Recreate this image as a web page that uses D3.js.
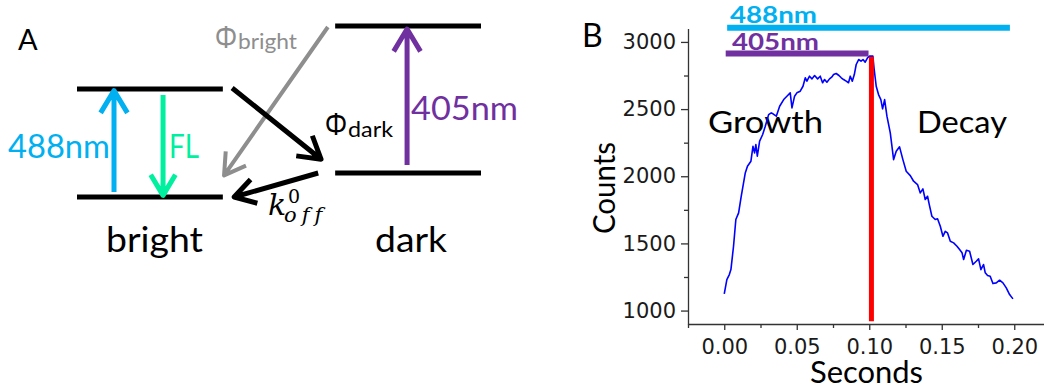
<!DOCTYPE html>
<html>
<head>
<meta charset="utf-8">
<script src="https://cdn.jsdelivr.net/npm/d3@7"></script>
<style>
  body { margin: 0; background: #fff; }
  svg { display: block; }
</style>
</head>
<body>
<svg id="fig" width="1044" height="390"></svg>
<script>
// ---------- Panel B: fluorescence counts vs. time ----------
const timeS = [
  0.0000, 0.0018, 0.0035, 0.0046, 0.0064, 0.0080, 0.0099, 0.0117, 0.0145, 0.0160,
  0.0184, 0.0198, 0.0209, 0.0218, 0.0228, 0.0244, 0.0265, 0.0283, 0.0306, 0.0324,
  0.0336, 0.0359, 0.0382, 0.0410, 0.0432, 0.0455, 0.0467, 0.0485, 0.0501, 0.0524,
  0.0543, 0.0559, 0.0570, 0.0588, 0.0605, 0.0623, 0.0644, 0.0662, 0.0678, 0.0692,
  0.0708, 0.0726, 0.0743, 0.0754, 0.0772, 0.0791, 0.0807, 0.0823, 0.0841, 0.0857,
  0.0869, 0.0883, 0.0897, 0.0910, 0.0927, 0.0943, 0.0957, 0.0972, 0.0988, 0.1002,
  0.1025, 0.1034, 0.1048, 0.1064, 0.1080, 0.1092, 0.1106, 0.1122, 0.1145, 0.1168,
  0.1186, 0.1209, 0.1232, 0.1255, 0.1283, 0.1306, 0.1333, 0.1352, 0.1370, 0.1386,
  0.1402, 0.1414, 0.1432, 0.1455, 0.1471, 0.1490, 0.1508, 0.1524, 0.1540, 0.1559,
  0.1582, 0.1605, 0.1623, 0.1640, 0.1651, 0.1670, 0.1692, 0.1715, 0.1738, 0.1754,
  0.1770, 0.1788, 0.1800, 0.1816, 0.1834, 0.1853, 0.1876, 0.1899, 0.1922, 0.1945,
  0.1968, 0.1991
];
const counts = [
  1125, 1231, 1268, 1305, 1479, 1678, 1727, 1851, 2025, 2075,
  2112, 2223, 2174, 2236, 2149, 2261, 2311, 2372, 2459, 2472,
  2465, 2447, 2521, 2571, 2596, 2621, 2509, 2596, 2621, 2633,
  2670, 2733, 2708, 2745, 2725, 2750, 2725, 2745, 2696, 2720,
  2700, 2725, 2740, 2757, 2765, 2750, 2733, 2720, 2708, 2696,
  2745, 2708, 2757, 2832, 2869, 2857, 2869, 2849, 2882, 2894,
  2894, 2795, 2670, 2608, 2571, 2502, 2571, 2447, 2323, 2124,
  2186, 2219, 2124, 2037, 2005, 1963, 1938, 1876, 1906, 1827,
  1851, 1789, 1702, 1678, 1683, 1628, 1553, 1590, 1578, 1516,
  1504, 1479, 1454, 1430, 1380, 1449, 1442, 1343, 1367, 1385,
  1305, 1343, 1281, 1261, 1255, 1201, 1206, 1226, 1206, 1169,
  1119, 1087
];

// 405 nm switch-off marker
const switchOffTime = 0.1015;
const switchOffTop = 2890;
const switchOffBottom = 920;

// illumination periods of the two lasers, stacked above the trace
const laserNames = ["488nm", "405nm"];
const laserOn = [0.002, 0.001];
const laserOff = [0.197, 0.0995];
const laserLevel = [3105, 2914];

const regionNames = ["Growth", "Decay"];

const xTicks = [0.00, 0.05, 0.10, 0.15, 0.20];
const xMinorTicks = [-0.025, 0.025, 0.075, 0.125, 0.175];
const yTicks = [1000, 1500, 2000, 2500, 3000];
const yMinorTicks = [1250, 1750, 2250, 2750];

// ---------- Panel A: bright / dark state scheme ----------
// horizontal position u (0..1 across the scheme) and energy E (ground of bright = 0, excited = 1)
const stateNames = ["bright", "dark"];
const stateStartU = [0, 0.639];
const stateEndU = [0.361, 1];
const levelState = [0, 0, 1, 1];
const levelEnergy = [0, 1, 0.222, 1.583];

const transitionNames = ["488nm", "FL", "405nm", "phiBright", "phiDark", "kOff"];
const transFromU = [0.0916, 0.213, 0.817, 0.621, 0.384, 0.597];
const transFromE = [0.046, 0.944, 0.296, 1.574, 1.009, 0.222];
const transToU = [0.0916, 0.213, 0.817, 0.364, 0.604, 0.389];
const transToE = [0.985, 0.015, 1.555, 0.2, 0.35, 0.0];

// ---------- drawing ----------
const svg = d3.select("#fig");
svg.append("rect").attr("width", 1044).attr("height", 390).attr("fill", "#fff");

const calibri = "Lato, 'Open Sans', 'Noto Sans', sans-serif";
const BLUE = "#00b0f0", GREEN = "#00f0a0", PURPLE = "#7030a0", GRAY = "#8e8e8e";

function label(g, txt, x, y, opts) {
  const t = g.append("text").attr("x", x).attr("y", y).text(txt)
    .attr("font-family", opts.family || calibri)
    .attr("font-size", opts.size)
    .attr("fill", opts.fill || "#000");
  if (opts.weight) t.attr("font-weight", opts.weight);
  if (opts.style) t.attr("font-style", opts.style);
  if (opts.anchor) t.attr("text-anchor", opts.anchor);
  if (opts.spacing) t.attr("letter-spacing", opts.spacing);
  if (opts.len) t.attr("textLength", opts.len).attr("lengthAdjust", "spacingAndGlyphs");
  return t;
}

// ----- Panel A -----
const gA = svg.append("g");
const uScale = d3.scaleLinear().domain([0, 1]).range([77, 481]);
const eScale = d3.scaleLinear().domain([0, 1]).range([197, 89]);

label(gA, "A", 18, 50, { size: 29 });

gA.selectAll("line.level")
  .data(levelState.map((s, i) => ({ s, e: levelEnergy[i] })))
  .join("line")
  .attr("class", "level")
  .attr("x1", d => uScale(stateStartU[d.s]))
  .attr("x2", d => uScale(stateEndU[d.s]))
  .attr("y1", d => eScale(d.e))
  .attr("y2", d => eScale(d.e))
  .attr("stroke", "#000")
  .attr("stroke-width", 5);

function arrowPath(x1, y1, x2, y2, len, ang) {
  const dx = x1 - x2, dy = y1 - y2, d = Math.hypot(dx, dy);
  const bx = dx / d, by = dy / d, c = Math.cos(ang), s = Math.sin(ang);
  const a1 = [x2 + len * (bx * c - by * s), y2 + len * (bx * s + by * c)];
  const a2 = [x2 + len * (bx * c + by * s), y2 + len * (-bx * s + by * c)];
  return `M${x1},${y1}L${x2},${y2}M${a1[0]},${a1[1]}L${x2},${y2}L${a2[0]},${a2[1]}`;
}

const transColor = [BLUE, GREEN, PURPLE, GRAY, "#000", "#000"];
const transWidth = [5, 5, 5, 4, 5, 5];
const transHead = [26, 24, 26, 24, 25, 24];

gA.selectAll("path.transition")
  .data(transitionNames.map((n, i) => i))
  .join("path")
  .attr("class", "transition")
  .attr("d", i => arrowPath(uScale(transFromU[i]), eScale(transFromE[i]),
                            uScale(transToU[i]), eScale(transToE[i]),
                            transHead[i], 31 * Math.PI / 180))
  .attr("fill", "none")
  .attr("stroke", i => transColor[i])
  .attr("stroke-width", i => transWidth[i])
  .attr("stroke-linejoin", "round");

label(gA, "488nm", 8, 158, { size: 32, fill: BLUE, len: 102 });
label(gA, "FL", 169, 158, { size: 32, fill: GREEN, len: 30 });
label(gA, "405nm", 411, 120, { size: 32, fill: PURPLE, len: 107 });
label(gA, "bright", 106, 252, { size: 34, len: 97 });
label(gA, "dark", 375, 252, { size: 34, len: 72 });

// rate labels
label(gA, "Φ", 215, 48, { size: 31, fill: GRAY, family: "'Noto Sans', sans-serif", len: 22 });
label(gA, "bright", 238, 49, { size: 22, fill: GRAY, len: 59 });
label(gA, "Φ", 325, 135, { size: 31, family: "'Noto Sans', sans-serif", len: 22 });
label(gA, "dark", 348, 137, { size: 22, len: 45 });

const serif = "'DejaVu Serif', 'Liberation Serif', serif";
label(gA, "k", 268, 215, { size: 30, style: "italic", family: serif });
label(gA, "0", 288, 203, { size: 19, family: serif });
label(gA, "off", 284, 222, { size: 21, style: "italic", family: serif, spacing: 5 });

// ----- Panel B -----
const gB = svg.append("g");
const x = d3.scaleLinear().domain([-0.025, 0.225]).range([688, 1050.5]);
const y = d3.scaleLinear().domain([900, 3100]).range([324, 28.5]);

label(gB, "B", 582, 47, { size: 32 });

const AXIS = "#333";
const tickFont = "'DejaVu Sans', Verdana, sans-serif";

// minor ticks
gB.append("g").attr("transform", "translate(0,324)")
  .call(d3.axisBottom(x).tickValues(xMinorTicks).tickSize(4).tickFormat(""))
  .call(g => g.select(".domain").remove());
gB.append("g").attr("transform", "translate(688,0)")
  .call(d3.axisLeft(y).tickValues(yMinorTicks).tickSize(4).tickFormat(""))
  .call(g => g.select(".domain").remove());

const gx = gB.append("g").attr("transform", "translate(0,324)")
  .call(d3.axisBottom(x).tickValues(xTicks).tickFormat(d3.format(".2f"))
        .tickSize(6).tickPadding(9).tickSizeOuter(0));
const gy = gB.append("g").attr("transform", "translate(688,0)")
  .call(d3.axisLeft(y).tickValues(yTicks).tickFormat(d3.format("d"))
        .tickSize(7).tickPadding(5).tickSizeOuter(0));

gB.selectAll(".tick line").attr("stroke", AXIS).attr("stroke-width", 1.3);
gB.selectAll(".domain").attr("stroke", AXIS).attr("stroke-width", 1.3);
gB.selectAll(".tick text")
  .attr("font-family", tickFont).attr("font-size", 21).attr("fill", "#1a1a1a");

// axis titles
label(gB, "Seconds", 866.5, 383, { size: 30, anchor: "middle", len: 113 });
label(gB, "Counts", 0, 0, { size: 30, anchor: "middle", len: 92 })
  .attr("transform", "translate(615,188) rotate(-90)");

// phase labels
label(gB, regionNames[0], 708, 133, { size: 30, len: 115 });
label(gB, regionNames[1], 917, 133, { size: 30, len: 90 });

// laser illumination bars
const laserColor = [BLUE, PURPLE];
gB.selectAll("line.laser")
  .data(laserNames.map((n, i) => i))
  .join("line")
  .attr("class", "laser")
  .attr("x1", i => x(laserOn[i]))
  .attr("x2", i => x(laserOff[i]))
  .attr("y1", i => y(laserLevel[i]))
  .attr("y2", i => y(laserLevel[i]))
  .attr("stroke", i => laserColor[i])
  .attr("stroke-width", 6);

label(gB, laserNames[0], 730, 23, { size: 22, weight: "bold", fill: BLUE, len: 87 });
label(gB, laserNames[1], 732, 50, { size: 22, weight: "bold", fill: PURPLE, len: 87 });

// intensity trace
const trace = d3.line()
  .x(i => x(timeS[i]))
  .y(i => y(counts[i]));
gB.append("path")
  .attr("d", trace(d3.range(timeS.length)))
  .attr("fill", "none")
  .attr("stroke", "#0000ff")
  .attr("stroke-width", 1.6)
  .attr("stroke-linejoin", "round");

// 405 nm switch-off
gB.append("line")
  .attr("x1", x(switchOffTime)).attr("x2", x(switchOffTime))
  .attr("y1", y(switchOffTop)).attr("y2", y(switchOffBottom))
  .attr("stroke", "#ff0000")
  .attr("stroke-width", 5);
</script>
</body>
</html>
